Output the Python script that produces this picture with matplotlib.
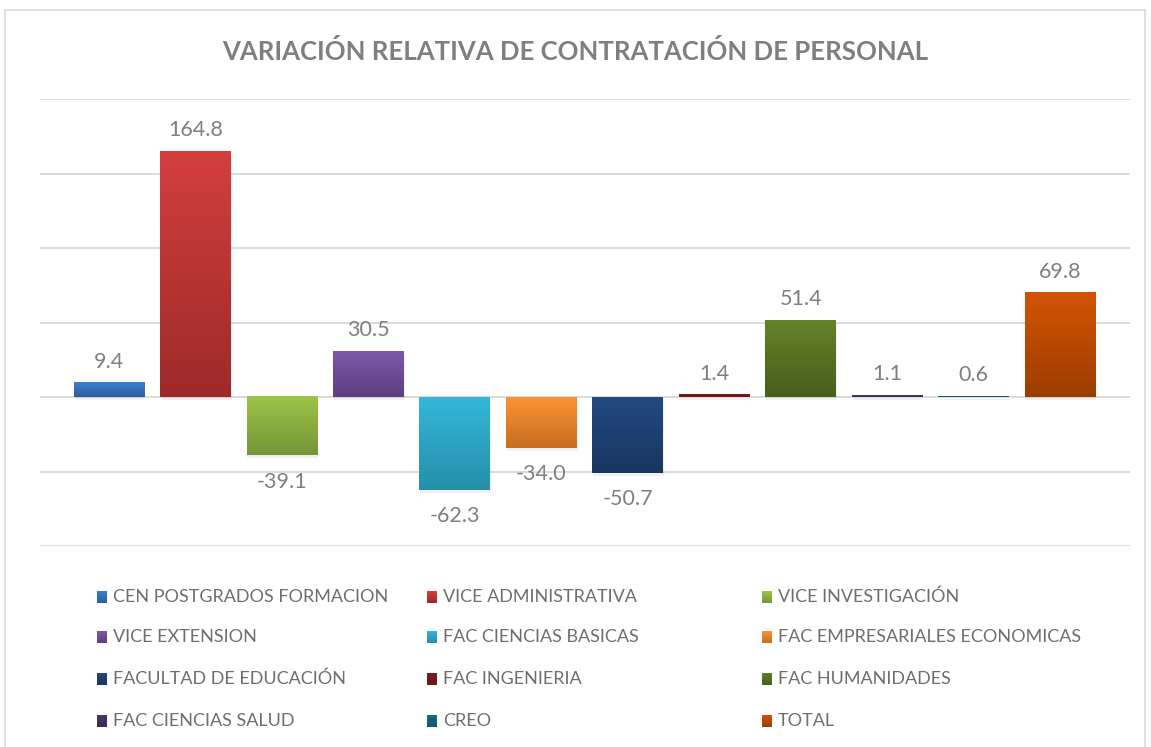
import numpy as np
import matplotlib.pyplot as plt
from matplotlib.colors import LinearSegmentedColormap
from matplotlib.patches import Rectangle

categories = ['CEN POSTGRADOS FORMACION', 'VICE ADMINISTRATIVA', 'VICE INVESTIGACIÓN',
              'VICE EXTENSION', 'FAC CIENCIAS BASICAS', 'FAC EMPRESARIALES ECONOMICAS',
              'FACULTAD DE EDUCACIÓN', 'FAC INGENIERIA', 'FAC HUMANIDADES',
              'FAC CIENCIAS SALUD', 'CREO', 'TOTAL']
values = [9.4, 164.8, -39.1, 30.5, -62.3, -34.0, -50.7, 1.4, 51.4, 1.1, 0.6, 69.8]
top_colors = ['#3B7FD0', '#D23F3D', '#9DC547', '#7E58A9', '#34B6D9', '#FA9335',
              '#23497F', '#7E1E1E', '#64832A', '#4C3767', '#176B80', '#D35400']
bottom_colors = ['#2C5E9E', '#9C2A2A', '#769438', '#5E3F80', '#258FAA', '#C76E1F',
                 '#193660', '#681818', '#485E1C', '#3A2A50', '#135867', '#9C3D00']
title = 'VARIACIÓN RELATIVA DE CONTRATACIÓN DE PERSONAL'

plt.rcParams['font.family'] = ['Lato', 'DejaVu Sans']

fig = plt.figure(figsize=(11.51, 7.47), dpi=100)
W, H = 1151, 747

# chart frame
fig.patches.append(Rectangle((5 / W, -0.01), 1140 / W, 1 - 10 / H + 0.01,
                             transform=fig.transFigure, fill=False,
                             edgecolor='#D9D9D9', linewidth=1.2))

ax = fig.add_axes([40 / W, 1 - 546 / H, 1090 / W, (546 - 99) / H])
x = np.arange(len(values))
bars = ax.bar(x, values, width=0.82, color='none', zorder=3)

grad = np.linspace(0, 1, 256).reshape(-1, 1)
for b, c1, c2, v in zip(bars, top_colors, bottom_colors, values):
    x0, y0 = b.get_x(), b.get_y()
    w, h = b.get_width(), b.get_height()
    ylo, yhi = min(y0, y0 + h), max(y0, y0 + h)
    cmap = LinearSegmentedColormap.from_list('g', [c1, c2])
    # soft shadow
    ax.add_patch(Rectangle((x0 + 0.01, ylo - 2.0), w, yhi - ylo, facecolor='#000000',
                           alpha=0.06, edgecolor='none', zorder=2))
    ax.imshow(grad, extent=[x0, x0 + w, ylo, yhi], origin='upper', cmap=cmap,
              aspect='auto', zorder=3, interpolation='bilinear')
    if v >= 0:
        ax.annotate(f'{v:.1f}', (x0 + w / 2, yhi), xytext=(0, 8), textcoords='offset points',
                    ha='center', va='bottom', fontsize=15.5, color='#7F7F7F')
    else:
        ax.annotate(f'{v:.1f}', (x0 + w / 2, ylo), xytext=(0, -12), textcoords='offset points',
                    ha='center', va='top', fontsize=15.5, color='#7F7F7F')

ax.set_xlim(-0.80, 11.81)
ax.set_ylim(-100, 200)
ax.set_yticks(np.arange(-100, 201, 50))
ax.grid(axis='y', color='#D9D9D9', linewidth=1.3, zorder=0)
ax.set_axisbelow(True)
ax.tick_params(left=False, bottom=False, labelleft=False, labelbottom=False)
for s in ax.spines.values():
    s.set_visible(False)

fig.text(0.5, 1 - 51 / H, title, ha='center', va='center', fontsize=18.5,
         fontweight='bold', color='#7F7F7F')

# legend, row-major like the original
col_x = [97, 427, 762]
row_y = [597, 637, 679, 721]
for i, (lab, c1, c2) in enumerate(zip(categories, top_colors, bottom_colors)):
    r, c = divmod(i, 3)
    px, py = col_x[c], row_y[r]
    lax = fig.add_axes([px / W, 1 - (py + 6) / H, 10 / W, 12 / H])
    lax.imshow(grad, cmap=LinearSegmentedColormap.from_list('g', [c1, c2]), aspect='auto')
    lax.axis('off')
    fig.text((px + 16) / W, 1 - py / H, lab, ha='left', va='center', fontsize=13,
             color='#6E6E6E')

fig.savefig('out.png', dpi=100)
